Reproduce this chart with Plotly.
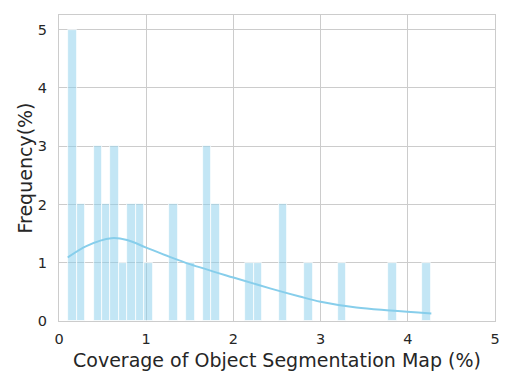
import plotly.graph_objects as go

# histogram bins (non-empty bins only)
bin_centers = [0.154, 0.251, 0.444, 0.541, 0.637, 0.734, 0.831, 0.927, 1.024,
               1.314, 1.507, 1.700, 1.797, 2.183, 2.280, 2.570, 2.860, 3.246,
               3.826, 4.212]
counts = [5, 2, 3, 2, 3, 1, 2, 2, 1, 2, 1, 3, 2, 1, 1, 2, 1, 1, 1, 1]
bin_width = 0.0966

# kde curve
kde_x = [0.10, 0.32, 0.60, 0.78, 1.00, 1.27, 1.50, 2.00, 2.42, 2.76, 3.00,
         3.41, 3.80, 4.27]
kde_y = [1.09, 1.29, 1.42, 1.39, 1.26, 1.10, 0.975, 0.745, 0.56, 0.42, 0.33,
         0.23, 0.18, 0.13]

x_ticks = [0, 1, 2, 3, 4, 5]
y_ticks = [0, 1, 2, 3, 4, 5]

SKY = "rgb(135,206,235)"
GRID = "#cccccc"
TEXT = "#262626"

fig = go.Figure()

fig.add_trace(go.Bar(
    x=bin_centers,
    y=counts,
    width=bin_width,
    marker=dict(color="rgba(135,206,235,0.5)", line=dict(color="white", width=0.75)),
    hoverinfo="x+y",
    showlegend=False,
))

fig.add_trace(go.Scatter(
    x=kde_x,
    y=kde_y,
    mode="lines",
    line=dict(color=SKY, width=2, shape="spline", smoothing=1.0),
    hoverinfo="skip",
    showlegend=False,
))

axis_common = dict(
    automargin=False,
    showgrid=True,
    gridcolor=GRID,
    gridwidth=1,
    zeroline=False,
    showline=True,
    linecolor=GRID,
    linewidth=1.25,
    mirror=True,
    ticks="outside",
    tickcolor="rgba(0,0,0,0)",
    tickfont=dict(size=14.5, color=TEXT),
)

# the page body adds an 8px offset, so margins are shifted to compensate
fig.update_layout(
    width=515,
    height=386,
    margin=dict(l=51, r=28, t=7, b=73),
    paper_bgcolor="white",
    plot_bgcolor="white",
    font=dict(family="DejaVu Sans", color=TEXT),
    bargap=0,
    xaxis=dict(
        axis_common,
        range=[0, 5],
        tickvals=x_ticks,
        ticklen=4,
        title=dict(text="Coverage of Object Segmentation Map (%)",
                   font=dict(size=19, color=TEXT), standoff=8),
    ),
    yaxis=dict(
        axis_common,
        range=[0, 5.25],
        tickvals=y_ticks,
        ticklen=8,
        title=dict(text="Frequency(%)", font=dict(size=19, color=TEXT),
                   standoff=0),
    ),
)

fig.write_html("out.html")
